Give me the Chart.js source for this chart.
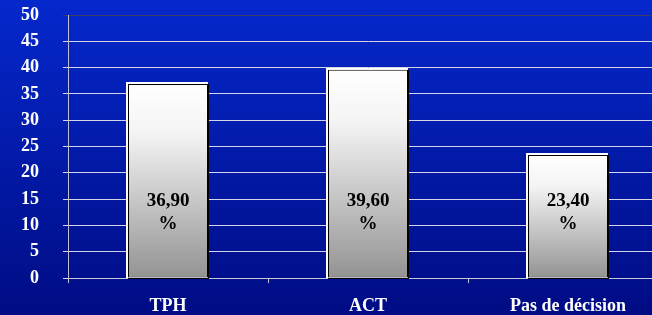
<!DOCTYPE html>
<html><head><meta charset="utf-8">
<script src="https://cdn.jsdelivr.net/npm/chart.js@4/dist/chart.umd.min.js"></script>
<style>
html,body{margin:0;padding:0;overflow:hidden;width:652px;height:315px;background:#0018a8}
canvas{display:block}
</style>
</head><body>
<canvas id="c" width="668" height="315"></canvas>
<script>
const categories = ['TPH', 'ACT', 'Pas de décision'];
const values = [36.9, 39.6, 23.4];
const valueLabels = ['36,90', '39,60', '23,40'];
const yMin = 0, yMax = 50, yStep = 5;

const FONT = '"Liberation Serif", "Times New Roman", serif';

const bgPlugin = {
  id: 'bg',
  beforeDraw(chart) {
    const c = chart.ctx;
    const g = c.createLinearGradient(0, 0, 0, chart.height);
    g.addColorStop(0, '#0528cc');
    g.addColorStop(1, '#000c84');
    c.save();
    c.fillStyle = g;
    c.fillRect(0, 0, chart.width, chart.height);
    c.restore();
  }
};

const barFramePlugin = {
  id: 'barFrame',
  beforeDatasetsDraw(chart) {
    const c = chart.ctx;
    const meta = chart.getDatasetMeta(0);
    c.save();
    meta.data.forEach(bar => {
      const w = bar.width, left = bar.x - w / 2, top = bar.y, h = bar.base - bar.y;
      c.fillStyle = '#ffffff';
      c.fillRect(Math.round(left) - 2, Math.round(top) - 2, Math.round(w) + 2, Math.round(h) + 2);
    });
    c.restore();
  },
  afterDatasetsDraw(chart) {
    const c = chart.ctx;
    const meta = chart.getDatasetMeta(0);
    const ys = chart.scales.y;
    c.save();
    meta.data.forEach((bar, i) => {
      const w = bar.width, left = Math.round(bar.x - w / 2), right = Math.round(bar.x + w / 2);
      const top = Math.round(bar.y), bottom = Math.round(bar.base);
      c.fillStyle = '#000000';
      c.fillRect(right, top, 1, bottom - top + 1);
      c.fillRect(left, bottom, right - left + 1, 1);
      c.fillStyle = '#000000';
      c.textAlign = 'center';
      c.textBaseline = 'middle';
      c.font = 'bold 19px ' + FONT;
      const y1 = ys.getPixelForValue(14.6);
      c.fillText(valueLabels[i], bar.x, y1);
      c.fillText('%', bar.x, y1 + 23);
    });
    c.restore();
  }
};

function barGradient(ctx) {
  const chart = ctx.chart;
  const ys = chart.scales && chart.scales.y;
  if (!chart.chartArea || !ys || ctx.dataIndex === undefined) return '#cccccc';
  const top = ys.getPixelForValue(values[ctx.dataIndex]);
  const bottom = ys.getPixelForValue(0);
  const g = chart.ctx.createLinearGradient(0, top, 0, bottom);
  g.addColorStop(0, '#ffffff');
  g.addColorStop(0.25, '#f4f4f4');
  g.addColorStop(1, '#939393');
  return g;
}

new Chart(document.getElementById('c'), {
  type: 'bar',
  data: {
    labels: categories,
    datasets: [{
      data: values,
      backgroundColor: barGradient,
      borderColor: '#000000',
      borderWidth: 1,
      borderSkipped: false,
      categoryPercentage: 1,
      barPercentage: 0.4
    }]
  },
  options: {
    responsive: false,
    animation: false,
    devicePixelRatio: 1,
    layout: { padding: { top: 15, left: 0, right: 0, bottom: 0 } },
    plugins: { legend: { display: false }, tooltip: { enabled: false } },
    scales: {
      x: {
        offset: true,
        afterFit(scale) { scale.height = 37; },
        grid: { offset: true, drawOnChartArea: false, drawTicks: true, tickLength: 5, color: '#c8c8d8' },
        border: { display: true, color: '#c8c8d8', width: 1 },
        ticks: { color: '#ffffff', padding: 13, font: { family: FONT, size: 18, weight: 'bold' } }
      },
      y: {
        min: yMin, max: yMax,
        afterFit(scale) { scale.width = 68; scale.paddingTop = 0; scale.paddingBottom = 0; },
        grid: {
          tickLength: 5,
          color: ctx => (ctx.tick && ctx.tick.value === yMax) ? '#3c3c64' : '#d4d4e4',
          lineWidth: 1
        },
        border: { display: true, color: '#c0c0d0', width: 1 },
        ticks: { stepSize: yStep, autoSkip: false, color: '#ffffff', padding: 24, font: { family: FONT, size: 18, weight: 'bold' } }
      }
    }
  },
  plugins: [bgPlugin, barFramePlugin]
});
</script>
</body></html>
